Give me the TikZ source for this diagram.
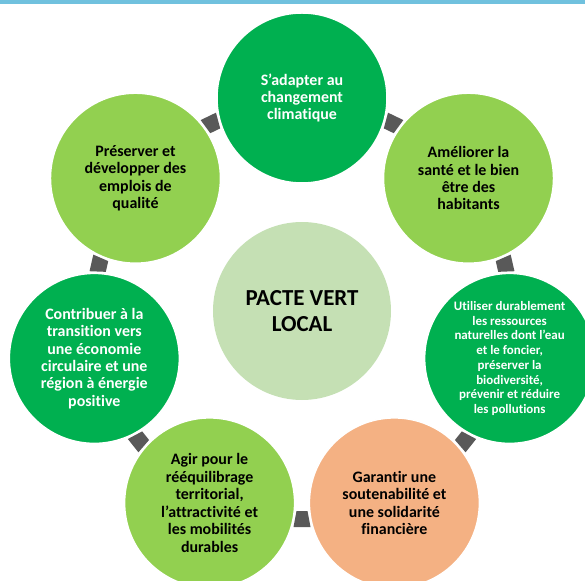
\documentclass[tikz,border=0pt]{standalone}
\usepackage{fontspec}
\setmainfont{Carlito}[Ligatures=NoCommon]
\usepackage{xcolor}
\usepackage{tikz}

\definecolor{darkgreen}{HTML}{00B050}
\definecolor{lightgreen}{HTML}{92D050}
\definecolor{centregreen}{HTML}{C5E0B4}
\definecolor{orangebox}{HTML}{F4B183}
\definecolor{linkgray}{HTML}{595959}
\definecolor{topbar}{HTML}{70C1DE}

\begin{document}
\begin{tikzpicture}[
    x=1bp, y=1bp,
    every node/.style={align=center, inner sep=0pt, outer sep=0pt},
    bubble/.style={circle, draw=white, line width=1.5bp, minimum size=170bp,
        font=\bfseries\fontsize{16}{17.5}\selectfont},
    darkbubble/.style={bubble, fill=darkgreen, text=white},
    lightbubble/.style={bubble, fill=lightgreen},
    orangebubble/.style={bubble, fill=orangebox},
    link/.style={fill=linkgray},
]
\useasboundingbox (-302,-270) rectangle (283,311);
\clip (-302,-270) rectangle (283,311);
\fill[topbar] (-302,307) rectangle (283,311);

% connectors between the bubbles (ring centre is the origin)
\fill[link, rotate=64.29] (200,-5.5) -- (216,-8.5) -- (216,8.5) -- (200,5.5) -- cycle;
\fill[link, rotate=12.86] (200,-5.5) -- (216,-8.5) -- (216,8.5) -- (200,5.5) -- cycle;
\fill[link, rotate=-38.57] (200,-5.5) -- (216,-8.5) -- (216,8.5) -- (200,5.5) -- cycle;
\fill[link, rotate=-90] (200,-5.5) -- (216,-8.5) -- (216,8.5) -- (200,5.5) -- cycle;
\fill[link, rotate=-141.43] (200,-5.5) -- (216,-8.5) -- (216,8.5) -- (200,5.5) -- cycle;
\fill[link, rotate=167.14] (200,-5.5) -- (216,-8.5) -- (216,8.5) -- (200,5.5) -- cycle;
\fill[link, rotate=115.71] (200,-5.5) -- (216,-8.5) -- (216,8.5) -- (200,5.5) -- cycle;

\node[circle, fill=centregreen, minimum size=178bp,
    font=\bfseries\fontsize{23}{26.7}\selectfont] (p) at (0,0) {PACTE VERT\\LOCAL};

\node[darkbubble] (c1) at (90:213) {S’adapter au\\changement\\climatique};
\node[lightbubble] (c2) at (38.57:213) {Améliorer la\\santé et le bien\\être des\\habitants};
\node[darkbubble, font=\bfseries\fontsize{13}{14.8}\selectfont] (c3) at (-12.86:213)
    {Utiliser durablement\\les ressources\\naturelles dont l’eau\\et le foncier,\\préserver la\\biodiversité,\\prévenir et réduire\\les pollutions};
\node[orangebubble] (c4) at (-64.29:213) {Garantir une\\soutenabilité et\\une solidarité\\financière};
\node[lightbubble] (c5) at (-115.71:213) {Agir pour le\\rééquilibrage\\territorial,\\l’attractivité et\\les mobilités\\durables};
\node[darkbubble] (c6) at (192.86:213) {Contribuer à la\\transition vers\\une économie\\circulaire et une\\région à énergie\\positive};
\node[lightbubble] (c7) at (141.43:213) {Préserver et\\développer des\\emplois de\\qualité};

\end{tikzpicture}
\end{document}
